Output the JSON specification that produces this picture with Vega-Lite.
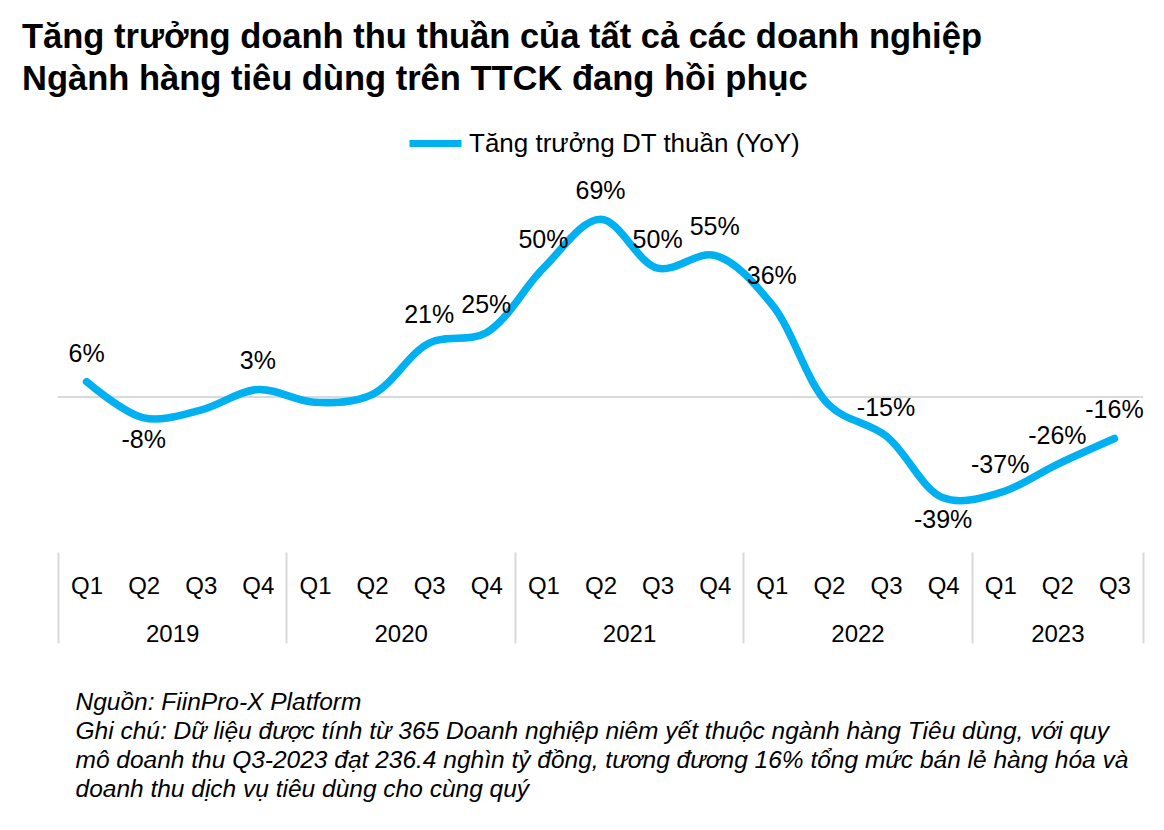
{
  "$schema": "https://vega.github.io/schema/vega-lite/v6.json",
  "width": 1085,
  "height": 387,
  "autosize": {"type": "none"},
  "padding": {"left": 58, "top": 165, "right": 21, "bottom": 278},
  "background": "white",
  "config": {"font": "Liberation Sans", "view": {"stroke": null}},
  "title": {
    "text": ["Tăng trưởng doanh thu thuần của tất cả các doanh nghiệp", "Ngành hàng tiêu dùng trên TTCK đang hồi phục"],
    "anchor": "start",
    "frame": "group",
    "fontSize": 34.5,
    "fontWeight": "bold",
    "color": "black",
    "lineHeight": 42,
    "dx": -36,
    "offset": 17
  },
  "data": {
    "values": [
      {"period": "2019-Q1", "year": 2019, "quarter": "Q1", "idx": 1, "value": 6, "label": "6%"},
      {"period": "2019-Q2", "year": 2019, "quarter": "Q2", "idx": 2, "value": -8, "label": "-8%"},
      {"period": "2019-Q3", "year": 2019, "quarter": "Q3", "idx": 3, "value": -5, "label": null},
      {"period": "2019-Q4", "year": 2019, "quarter": "Q4", "idx": 4, "value": 3, "label": "3%"},
      {"period": "2020-Q1", "year": 2020, "quarter": "Q1", "idx": 5, "value": -2, "label": null},
      {"period": "2020-Q2", "year": 2020, "quarter": "Q2", "idx": 6, "value": 1, "label": null},
      {"period": "2020-Q3", "year": 2020, "quarter": "Q3", "idx": 7, "value": 21, "label": "21%"},
      {"period": "2020-Q4", "year": 2020, "quarter": "Q4", "idx": 8, "value": 25, "label": "25%"},
      {"period": "2021-Q1", "year": 2021, "quarter": "Q1", "idx": 9, "value": 50, "label": "50%"},
      {"period": "2021-Q2", "year": 2021, "quarter": "Q2", "idx": 10, "value": 69, "label": "69%"},
      {"period": "2021-Q3", "year": 2021, "quarter": "Q3", "idx": 11, "value": 50, "label": "50%"},
      {"period": "2021-Q4", "year": 2021, "quarter": "Q4", "idx": 12, "value": 55, "label": "55%"},
      {"period": "2022-Q1", "year": 2022, "quarter": "Q1", "idx": 13, "value": 36, "label": "36%"},
      {"period": "2022-Q2", "year": 2022, "quarter": "Q2", "idx": 14, "value": -3, "label": null},
      {"period": "2022-Q3", "year": 2022, "quarter": "Q3", "idx": 15, "value": -15, "label": "-15%"},
      {"period": "2022-Q4", "year": 2022, "quarter": "Q4", "idx": 16, "value": -39, "label": "-39%"},
      {"period": "2023-Q1", "year": 2023, "quarter": "Q1", "idx": 17, "value": -37, "label": "-37%"},
      {"period": "2023-Q2", "year": 2023, "quarter": "Q2", "idx": 18, "value": -26, "label": "-26%"},
      {"period": "2023-Q3", "year": 2023, "quarter": "Q3", "idx": 19, "value": -16, "label": "-16%"}
    ]
  },
  "resolve": {"axis": {"x": "independent"}},
  "layer": [
    {
      "mark": {"type": "rule", "color": "#d9d9d9", "strokeWidth": 1.5},
      "encoding": {
        "y": {"datum": 0, "type": "quantitative", "scale": {"domain": [-60, 90], "nice": false, "zero": false}, "axis": null}
      }
    },
    {
      "mark": {"type": "line", "strokeWidth": 7.5, "interpolate": "catmull-rom", "strokeCap": "round", "strokeJoin": "round"},
      "encoding": {
        "x": {
          "field": "idx", "type": "quantitative",
          "scale": {"domain": [0.5, 19.5], "nice": false, "zero": false},
          "axis": {
            "orient": "bottom",
            "values": [1, 2, 3, 4, 5, 6, 7, 8, 9, 10, 11, 12, 13, 14, 15, 16, 17, 18, 19],
            "labelExpr": "'Q' + ((datum.value - 1) % 4 + 1)",
            "ticks": false, "domain": false, "grid": false,
            "labelFontSize": 24, "labelColor": "black", "labelPadding": 41,
            "labelBaseline": "alphabetic", "labelFlush": false, "labelOverlap": false, "labelBound": false,
            "title": null
          }
        },
        "y": {"field": "value", "type": "quantitative", "scale": {"domain": [-60, 90], "nice": false, "zero": false}, "axis": null},
        "color": {
          "datum": "Tăng trưởng DT thuần (YoY)",
          "scale": {"range": ["#00b0f0"]},
          "legend": {
            "orient": "none", "legendX": 348, "legendY": -51,
            "title": null, "symbolType": "stroke", "symbolStrokeWidth": 7, "symbolSize": 2704,
            "labelFontSize": 26, "labelColor": "black", "labelOffset": 4, "labelLimit": 600, "direction": "horizontal"
          }
        }
      }
    },
    {
      "transform": [{"filter": "datum.label != null && datum.period != '2019-Q2' && datum.period != '2022-Q4'"}],
      "mark": {"type": "text", "fontSize": 25, "dy": -28, "baseline": "middle", "color": "black"},
      "encoding": {
        "x": {
          "field": "idx", "type": "quantitative",
          "scale": {"domain": [0.5, 19.5], "nice": false, "zero": false},
          "axis": {
            "orient": "bottom",
            "values": [0.5, 4.5, 8.5, 12.5, 16.5, 19.5],
            "labels": false, "ticks": true, "tickSize": 91, "tickColor": "#d9d9d9", "tickWidth": 2,
            "domain": false, "grid": false, "title": null
          }
        },
        "y": {"field": "value", "type": "quantitative", "scale": {"domain": [-60, 90], "nice": false, "zero": false}, "axis": null},
        "text": {"field": "label"}
      }
    },
    {
      "transform": [{"filter": "datum.period == '2019-Q2' || datum.period == '2022-Q4'"}],
      "mark": {"type": "text", "fontSize": 25, "dy": 22, "baseline": "middle", "color": "black"},
      "encoding": {
        "x": {
          "field": "idx", "type": "quantitative",
          "scale": {"domain": [0.5, 19.5], "nice": false, "zero": false},
          "axis": {
            "orient": "bottom",
            "values": [2.5, 6.5, 10.5, 14.5, 18],
            "labelExpr": "'' + (2019 + floor((datum.value - 0.5) / 4))",
            "ticks": false, "domain": false, "grid": false,
            "labelFontSize": 24, "labelColor": "black", "labelPadding": 89,
            "labelBaseline": "alphabetic", "labelFlush": false, "labelOverlap": false, "labelBound": false,
            "title": ["Nguồn: FiinPro-X Platform", "Ghi chú: Dữ liệu được tính từ 365 Doanh nghiệp niêm yết thuộc ngành hàng Tiêu dùng, với quy", "mô doanh thu Q3-2023 đạt 236.4 nghìn tỷ đồng, tương đương 16% tổng mức bán lẻ hàng hóa và", "doanh thu dịch vụ tiêu dùng cho cùng quý"],
            "titleFontSize": 24.5, "titleFontStyle": "italic", "titleFontWeight": "normal", "titleColor": "black",
            "titleAnchor": "start", "titleAlign": "left", "titleBaseline": "alphabetic",
            "titleX": 17, "titleY": 157, "titleLineHeight": 29
          }
        },
        "y": {"field": "value", "type": "quantitative", "scale": {"domain": [-60, 90], "nice": false, "zero": false}, "axis": null},
        "text": {"field": "label"}
      }
    }
  ]
}
